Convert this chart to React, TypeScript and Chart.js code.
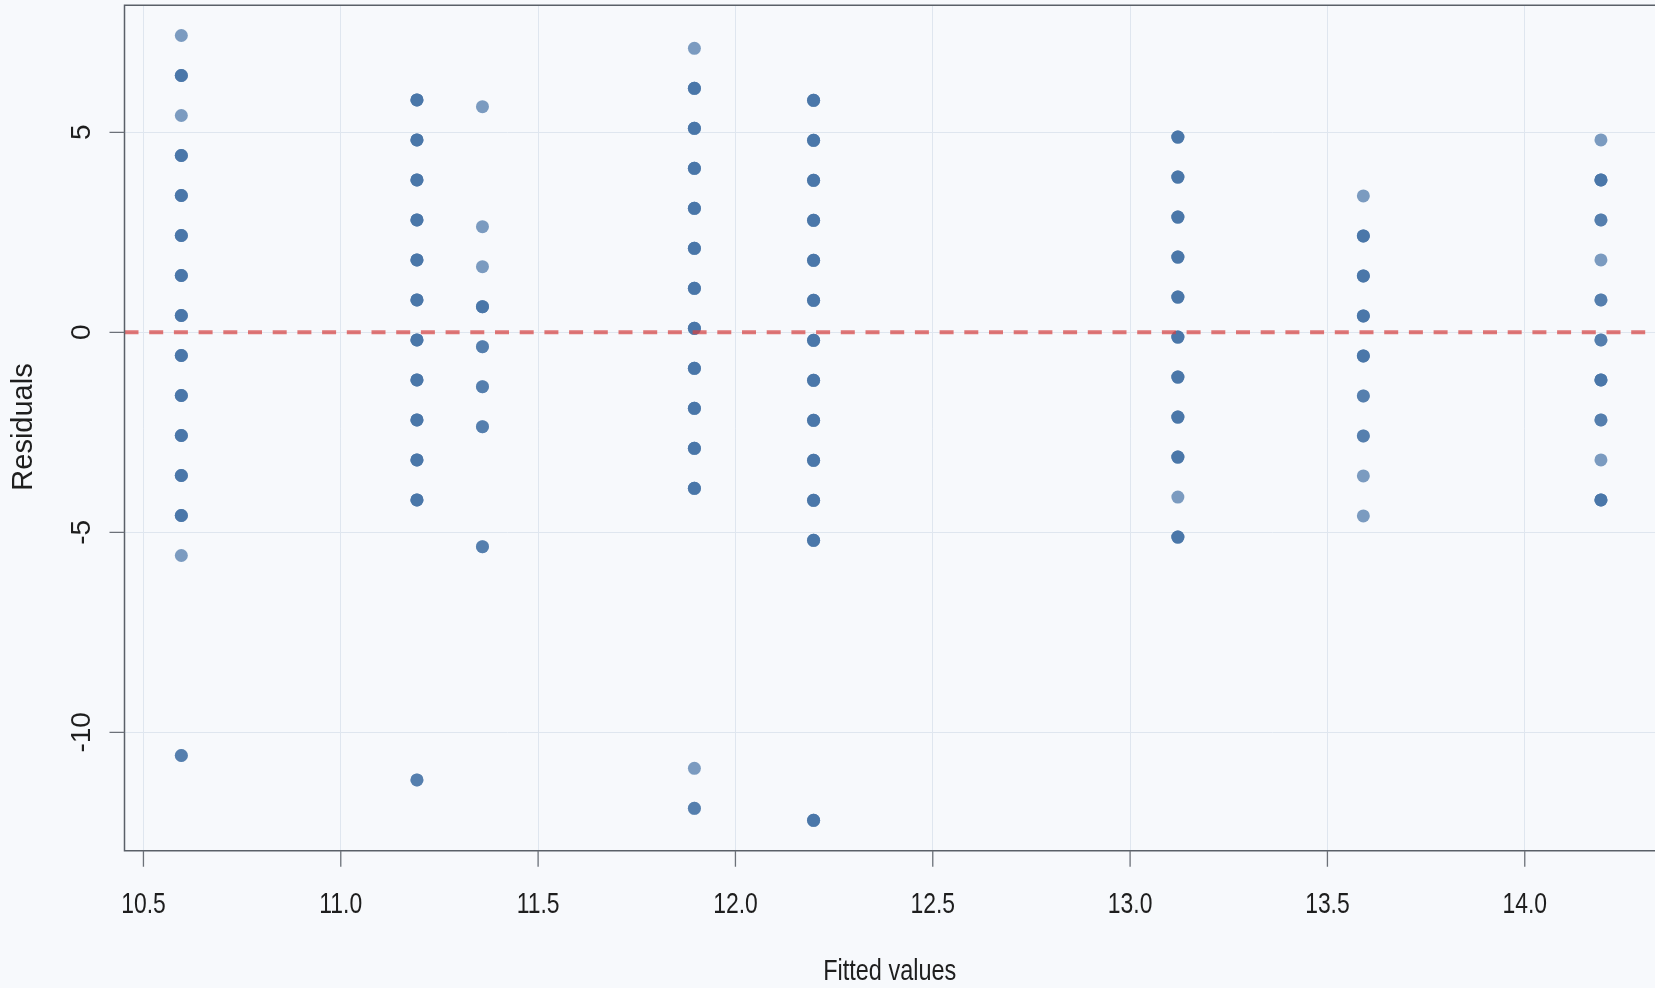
import { useEffect, useRef } from 'react';
import { Chart, registerables } from 'chart.js';

Chart.register(...registerables);

// ---------- data ----------
const fittedValues = [10.596, 11.193, 11.359, 11.896, 12.198, 13.121, 13.591, 14.193];

const residualsFit1 = [7.42, 6.42, 5.42, 4.42, 3.42, 2.42, 1.42, 0.42, -0.58, -1.58, -2.58, -3.58, -4.58, -5.58, -10.58];
const residualsFit2 = [5.81, 4.81, 3.81, 2.81, 1.81, 0.81, -0.19, -1.19, -2.19, -3.19, -4.19, -11.19];
const residualsFit3 = [5.64, 2.64, 1.64, 0.64, -0.36, -1.36, -2.36, -5.36];
const residualsFit4 = [7.1, 6.1, 5.1, 4.1, 3.1, 2.1, 1.1, 0.1, -0.9, -1.9, -2.9, -3.9, -10.9, -11.9];
const residualsFit5 = [5.8, 4.8, 3.8, 2.8, 1.8, 0.8, -0.2, -1.2, -2.2, -3.2, -4.2, -5.2, -12.2];
const residualsFit6 = [4.88, 3.88, 2.88, 1.88, 0.88, -0.12, -1.12, -2.12, -3.12, -4.12, -5.12];
const residualsFit7 = [3.41, 2.41, 1.41, 0.41, -0.59, -1.59, -2.59, -3.59, -4.59];
const residualsFit8 = [4.81, 3.81, 2.81, 1.81, 0.81, -0.19, -1.19, -2.19, -3.19, -4.19];

// how many observations overlap at each point (darker = more overlap)
const countsFit1 = [1, 3, 1, 3, 3, 3, 3, 3, 3, 3, 3, 3, 3, 1, 2];
const countsFit2 = [3, 3, 3, 3, 3, 3, 3, 3, 3, 3, 3, 2];
const countsFit3 = [1, 1, 1, 3, 2, 2, 2, 2];
const countsFit4 = [1, 3, 3, 3, 3, 3, 3, 3, 3, 3, 3, 3, 1, 2];
const countsFit5 = [3, 3, 3, 3, 3, 3, 3, 3, 3, 3, 3, 3, 3];
const countsFit6 = [3, 3, 3, 3, 3, 3, 3, 3, 3, 1, 3];
const countsFit7 = [1, 3, 3, 3, 3, 2, 2, 1, 1];
const countsFit8 = [1, 3, 2, 1, 2, 2, 3, 2, 1, 3];

const residualGroups = [residualsFit1, residualsFit2, residualsFit3, residualsFit4, residualsFit5, residualsFit6, residualsFit7, residualsFit8];
const countGroups = [countsFit1, countsFit2, countsFit3, countsFit4, countsFit5, countsFit6, countsFit7, countsFit8];

const referenceLine = 0;

const xTickValues = [10.5, 11.0, 11.5, 12.0, 12.5, 13.0, 13.5, 14.0];
const xTickLabels = ['10.5', '11.0', '11.5', '12.0', '12.5', '13.0', '13.5', '14.0'];
const yTickValues = [-10, -5, 0, 5];
const yTickLabels = ['-10', '-5', '0', '5'];

const xTitle = 'Fitted values';
const yTitle = 'Residuals';

const X_MIN = 10.452;
const X_MAX = 14.33;
const Y_MIN = -12.96;
const Y_MAX = 8.175;

// ---------- styles ----------
const W = 1655;
const H = 988;
const BG = '#f7f9fc';
const GRID = '#dfe6ef';
const AXIS = '#5a6068';
const TEXT = '#1e1e1e';
const POINT = 'rgba(70,116,166,0.70)';
const FONT = '"Liberation Sans", Arial, sans-serif';

const points: { x: number; y: number }[] = [];
fittedValues.forEach((fx, i) => {
  residualGroups[i].forEach((r, j) => {
    for (let k = 0; k < countGroups[i][j]; k++) points.push({ x: fx, y: r });
  });
});

const bgPlugin = {
  id: 'bg',
  beforeDraw(chart: any) {
    const ctx = chart.ctx;
    ctx.save();
    ctx.fillStyle = BG;
    ctx.fillRect(0, 0, chart.width, chart.height);
    ctx.restore();
  },
};

const axesPlugin = {
  id: 'rAxes',
  afterDraw(chart: any) {
    const { ctx, chartArea } = chart;
    const xs = chart.scales.x;
    const ys = chart.scales.y;
    ctx.save();
    // box: top, left, bottom
    ctx.strokeStyle = AXIS;
    ctx.lineWidth = 1.5;
    ctx.beginPath();
    ctx.moveTo(chartArea.right + 2, chartArea.top);
    ctx.lineTo(chartArea.left, chartArea.top);
    ctx.lineTo(chartArea.left, chartArea.bottom);
    ctx.lineTo(chartArea.right + 2, chartArea.bottom);
    ctx.stroke();

    // ticks
    ctx.strokeStyle = '#6c7179';
    ctx.lineWidth = 1.3;
    ctx.beginPath();
    xTickValues.forEach((v) => {
      const px = xs.getPixelForValue(v);
      ctx.moveTo(px, chartArea.bottom);
      ctx.lineTo(px, chartArea.bottom + 16);
    });
    yTickValues.forEach((v) => {
      const py = ys.getPixelForValue(v);
      ctx.moveTo(chartArea.left, py);
      ctx.lineTo(chartArea.left - 15, py);
    });
    ctx.stroke();

    ctx.fillStyle = TEXT;
    ctx.textAlign = 'center';
    ctx.textBaseline = 'middle';

    // x tick labels (narrow)
    ctx.font = `29px ${FONT}`;
    xTickValues.forEach((v, i) => {
      const px = xs.getPixelForValue(v);
      ctx.save();
      ctx.translate(px, 905);
      ctx.scale(0.79, 1);
      ctx.fillText(xTickLabels[i], 0, 0);
      ctx.restore();
    });

    // y tick labels (rotated)
    ctx.font = `28px ${FONT}`;
    yTickValues.forEach((v, i) => {
      const py = ys.getPixelForValue(v);
      ctx.save();
      ctx.translate(82, py);
      ctx.rotate(-Math.PI / 2);
      ctx.fillText(yTickLabels[i], 0, 0);
      ctx.restore();
    });

    // x title
    ctx.font = `29px ${FONT}`;
    ctx.save();
    ctx.translate((chartArea.left + chartArea.right) / 2, 972);
    ctx.scale(0.81, 1);
    ctx.fillText(xTitle, 0, 0);
    ctx.restore();

    // y title
    ctx.save();
    ctx.translate(24, 427);
    ctx.rotate(-Math.PI / 2);
    ctx.fillText(yTitle, 0, 0);
    ctx.restore();

    ctx.restore();
  },
};

export default function App() {
  const ref = useRef<HTMLCanvasElement>(null);

  useEffect(() => {
    document.body.style.margin = '0';
    document.body.style.background = BG;
    const canvas = ref.current;
    if (!canvas) return;
    const chart = new Chart(canvas, {
      type: 'scatter',
      data: {
        datasets: [
          {
            type: 'scatter',
            label: 'zero',
            data: [
              { x: X_MIN, y: referenceLine },
              { x: X_MAX, y: referenceLine },
            ],
            showLine: true,
            borderColor: 'rgba(214,66,66,0.72)',
            borderWidth: 4,
            borderDash: [14, 10.7],
            pointRadius: 0,
            order: 0,
          } as any,
          {
            label: 'residuals',
            data: points,
            backgroundColor: POINT,
            borderWidth: 0,
            pointRadius: 6.5,
            pointHoverRadius: 6.5,
            order: 1,
          },
        ],
      },
      options: {
        responsive: false,
        animation: false,
        devicePixelRatio: 1,
        layout: { autoPadding: false, padding: { top: 5.3, left: 0, right: 0, bottom: 0 } },
        plugins: {
          legend: { display: false },
          tooltip: { enabled: false },
          title: { display: false },
        },
        events: [],
        scales: {
          x: {
            type: 'linear',
            min: X_MIN,
            max: X_MAX,
            afterBuildTicks: (s: any) => {
              s.ticks = xTickValues.map((v) => ({ value: v }));
            },
            afterFit: (s: any) => {
              s.height = H - 850.7;
              s.paddingLeft = 0;
              s.paddingRight = 0;
            },
            grid: { color: GRID, lineWidth: 1, drawTicks: false },
            border: { display: false },
            ticks: { display: false },
          },
          y: {
            type: 'linear',
            min: Y_MIN,
            max: Y_MAX,
            afterBuildTicks: (s: any) => {
              s.ticks = yTickValues.map((v) => ({ value: v }));
            },
            afterFit: (s: any) => {
              s.width = 124.5;
              s.paddingTop = 0;
              s.paddingBottom = 0;
            },
            grid: { color: GRID, lineWidth: 1, drawTicks: false },
            border: { display: false },
            ticks: { display: false },
          },
        },
      } as any,
      plugins: [bgPlugin, axesPlugin],
    });
    return () => chart.destroy();
  }, []);

  return (
    <div style={{ width: W, height: H, background: BG }}>
      <canvas ref={ref} width={W} height={H} style={{ display: 'block', width: W, height: H }} />
    </div>
  );
}
